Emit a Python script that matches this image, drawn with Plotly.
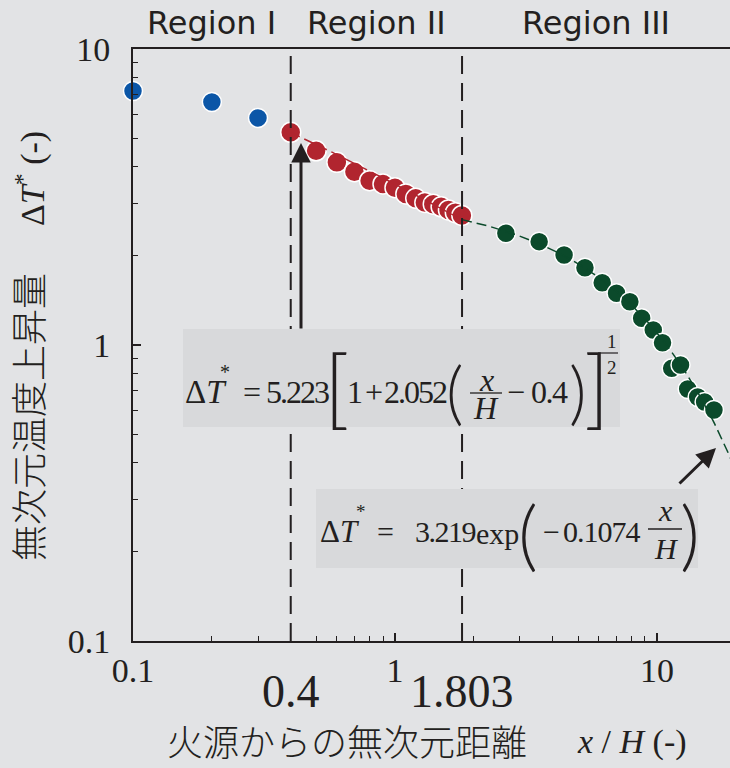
import numpy as np
import plotly.graph_objects as go

# ---- data -------------------------------------------------------------
# Region I (near the source)
x_region1 = [0.1, 0.2, 0.3]
y_region1 = [7.21, 6.62, 5.85]

# Region II
x_region2 = [0.4, 0.5, 0.6, 0.7, 0.8, 0.9, 1.0, 1.1, 1.2, 1.3, 1.4, 1.5, 1.6, 1.7, 1.8]
y_region2 = [5.23, 4.53, 4.14, 3.85, 3.59, 3.50, 3.40, 3.24, 3.13, 3.03, 2.99, 2.93, 2.86, 2.80, 2.74]

# Region III
x_region3 = [2.65, 3.55, 4.42, 5.31, 6.18, 7.01, 7.88, 8.74, 9.68, 10.5, 11.38, 12.3,
             13.1, 14.3, 15.2, 16.5]
y_region3 = [2.385, 2.234, 2.014, 1.824, 1.623, 1.495, 1.40, 1.231, 1.124, 1.018, 0.834, 0.856,
             0.710, 0.667, 0.642, 0.603]

# region boundaries and fitted-curve coefficients
boundaries = [0.4, 1.803]
boundary_labels = ["0.4", "1.803"]
fit2_a, fit2_b, fit2_x0 = 5.223, 2.052, 0.4
fit3_a, fit3_k = 3.219, 0.1074

region_names = ["Region I", "Region II", "Region III"]

x_tickvals = [0.1, 1, 10]
x_ticktext = ["0.1", "1", "10"]
y_tickvals = [0.1, 1, 10]
y_ticktext = ["0.1", "1", "10"]
minor_vals = [m * 10.0 ** e for e in (-1, 0, 1) for m in range(2, 10)]

x_max = 19.0

# ---- styling ----------------------------------------------------------
W, H = 730, 768
L, R, T, B = 133, 730, 49, 641
BG = "#e2e3e5"
BOX = "#d8d9db"
INK = "#231f20"
BLUE = "#0b56a7"
RED = "#b1252f"
GREEN = "#0b4a2b"
SERIF = "Liberation Serif, Times New Roman, serif"
JP = "Noto Sans CJK JP, sans-serif"
SANS = "DejaVu Sans, sans-serif"
THIN = "Lato, Roboto, sans-serif"

fig = go.Figure()

marker_line = dict(color="white", width=1.5)
fig.add_trace(go.Scatter(x=x_region1, y=y_region1, mode="markers", cliponaxis=False,
                         marker=dict(size=19, color=BLUE, line=marker_line)))
fig.add_trace(go.Scatter(x=x_region2, y=y_region2, mode="markers", cliponaxis=False,
                         marker=dict(size=20, color=RED, line=marker_line)))
fig.add_trace(go.Scatter(x=x_region3, y=y_region3, mode="markers", cliponaxis=False,
                         marker=dict(size=19, color=GREEN, line=marker_line)))

# fitted curves
xf2 = np.logspace(np.log10(boundaries[0]), np.log10(boundaries[1]), 120)
yf2 = fit2_a * (1 + fit2_b * (xf2 - fit2_x0)) ** -0.5
xf3 = np.logspace(np.log10(boundaries[1]), np.log10(x_max * 1.3), 160)
yf3 = fit3_a * np.exp(-fit3_k * xf3)
fig.add_trace(go.Scatter(x=xf2, y=yf2, mode="lines",
                         line=dict(color=RED, width=1.5, dash="10px,5px")))
fig.add_trace(go.Scatter(x=xf3, y=yf3, mode="lines",
                         line=dict(color=GREEN, width=1.5, dash="10px,5px")))


def px(xp):
    return (xp - L) / (R - L)


def py(yp):
    return (B - yp) / (B - T)


shapes = []
# region boundaries
for xb in boundaries:
    shapes.append(dict(type="line", xref="x", yref="paper", x0=xb, x1=xb, y0=0, y1=1,
                       layer="above", line=dict(color=INK, width=2, dash="18px,9px")))

# equation panels
shapes.append(dict(type="rect", xref="paper", yref="paper", x0=px(183), x1=px(620),
                   y0=py(427), y1=py(329), layer="above", fillcolor=BOX, line=dict(width=0)))
shapes.append(dict(type="rect", xref="paper", yref="paper", x0=px(316), x1=px(698),
                   y0=py(568), y1=py(489), layer="above", fillcolor=BOX, line=dict(width=0)))


def bar(x0, x1, yp, w=1.3):
    shapes.append(dict(type="line", xref="paper", yref="paper", x0=px(x0), x1=px(x1),
                       y0=py(yp), y1=py(yp), layer="above", line=dict(color=INK, width=w)))


ann = []


def txt(s, xp, yp, size, family=SERIF, xa="center", ya="middle", weight=None, **kw):
    font = dict(family=family, size=size, color=INK)
    if weight is not None:
        font["weight"] = weight
    ann.append(dict(text=s, x=px(xp), y=py(yp), xref="paper", yref="paper",
                    xanchor=xa, yanchor=ya, showarrow=False, font=font, **kw))


def tight(s, ls=-1.5):
    return '<span style="letter-spacing:%spx">%s</span>' % (ls, s)


# equation for Region II
FS1 = 32
txt("Δ<i>T</i>", 183, 392, 33, xa="left")
txt("*", 225, 372, 20)
txt("=", 252, 392, FS1)
txt(tight("5.223", -2), 297, 392, FS1)
txt("[", 337, 385, 86, family=THIN, weight=300)
txt("1", 355, 392, FS1)
txt("+", 374, 392, FS1)
txt(tight("2.052", -2), 415, 392, FS1)
txt("(", 455, 391, 68, family=THIN, weight=300)
txt("<i>x</i>", 486, 380, FS1)
bar(470, 502, 393)
txt("<i>H</i>", 486, 408, FS1)
txt("−", 516, 392, FS1)
txt(tight("0.4"), 549, 392, FS1)
txt(")", 578, 391, 68, family=THIN, weight=300)
txt("]", 597, 385, 86, family=THIN, weight=300)
bar(598, 618, 353, 1.2)
txt("1", 612, 341, 19)
txt("2", 612, 367, 19)

# equation for Region III
FS2 = 30
txt("Δ<i>T</i>", 318, 531, 31, xa="left")
txt("*", 361, 511, 19)
txt("=", 385, 531, FS2)
txt(tight("3.219"), 445, 531, FS2)
txt("exp", 497, 533, FS2)
txt("(", 528, 532, 77, family=THIN, weight=300)
txt("−", 551, 531, FS2)
txt(tight("0.1074", -1), 602, 531, FS2)
txt("<i>x</i>", 665, 510, FS2)
bar(648, 682, 529)
txt("<i>H</i>", 666, 548, FS2)
txt(")", 690, 532, 77, family=THIN, weight=300)

# arrows pointing at the curves
ann.append(dict(text="", x=px(301), y=py(143), xref="paper", yref="paper",
                ax=0, ay=187, showarrow=True, arrowhead=2, arrowsize=1.3,
                arrowwidth=3, arrowcolor=INK, standoff=0))
ann.append(dict(text="", x=px(716), y=py(448), xref="paper", yref="paper",
                ax=-38, ay=37, showarrow=True, arrowhead=2, arrowsize=1.3,
                arrowwidth=3, arrowcolor=INK, standoff=0))

# region names above the plot
edges = [x_tickvals[0]] + boundaries + [x_max]
for i, name in enumerate(region_names):
    xc = (np.log10(edges[i]) + np.log10(edges[i + 1])) / 2
    ann.append(dict(text=name, x=xc, y=py(23), xref="x", yref="paper", showarrow=False,
                    xanchor="center", yanchor="middle",
                    font=dict(family=SANS, size=32, color=INK)))

# boundary tick labels
for xb, lab in zip(boundaries, boundary_labels):
    ann.append(dict(text=lab, x=np.log10(xb), y=py(691), xref="x", yref="paper",
                    showarrow=False, xanchor="center", yanchor="middle",
                    font=dict(family=SERIF, size=46, color=INK)))

# axis titles
txt("火源からの無次元距離", 347, 740, 36, family=JP, weight=300)
txt("<i>x</i> / <i>H</i> (-)", 632, 742, 34)
txt("無次元温度上昇量", 27, 417, 36, family=JP, weight=300, textangle=-90)
txt("Δ<i>T</i><sup>*</sup> (-)", 30, 179, 34, textangle=-90)

axis_common = dict(type="log", showgrid=False, zeroline=False, showline=True,
                   linecolor=INK, linewidth=2, ticks="inside", ticklen=8, tickwidth=1.5,
                   tickcolor=INK, tickmode="array",
                   tickfont=dict(family=SERIF, size=34, color=INK),
                   minor=dict(tickmode="array", tickvals=minor_vals, ticks="inside",
                              ticklen=5, tickwidth=1.2, tickcolor=INK, showgrid=False))

fig.update_layout(
    width=W, height=H,
    margin=dict(l=L, r=W - R, t=T, b=H - B, pad=0),
    paper_bgcolor=BG, plot_bgcolor=BG,
    showlegend=False,
    xaxis=dict(axis_common, range=[-1, np.log10(x_max)], tickvals=x_tickvals,
               ticktext=x_ticktext, mirror=True, ticklabelstandoff=-2),
    yaxis=dict(axis_common, range=[-1, 1], tickvals=y_tickvals, ticktext=y_ticktext,
               ticklabelstandoff=14),
    shapes=shapes,
    annotations=ann,
)

fig.write_html("out.html")
